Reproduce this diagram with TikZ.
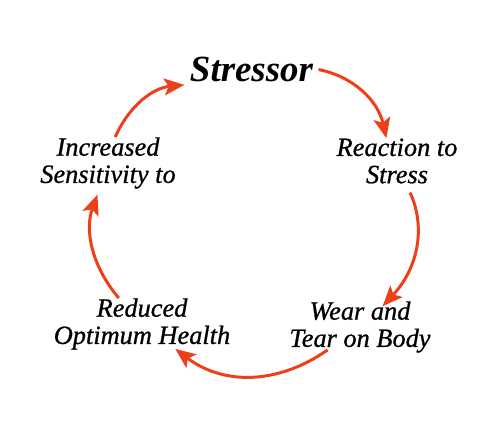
\documentclass[tikz,border=0pt]{standalone}
\usepackage{fontspec}
\setmainfont{Liberation Serif}
\newfontfamily\stagefont{Liberation Serif}[ItalicFeatures={FakeBold=0.8}]
\usepackage{tikz}
\usetikzlibrary{arrows.meta}
\usepackage{xcolor}
\definecolor{r1}{HTML}{EE3F1B}
\tikzset{>={Stealth[length=11.5pt,width=9.5pt,inset=2.5pt]}}
\tikzstyle{stage}=[align=center,inner sep=0pt,font=\stagefont\itshape\fontsize{15}{15.5}\selectfont]
\tikzstyle{cycle arrow}=[->,color=r1,line width=1.7pt]

\begin{document}
\begin{tikzpicture}[x=0.02cm,y=0.02cm]
  \useasboundingbox (0,0) rectangle (500,438);
  \node[font=\bfseries\itshape\fontsize{21}{24}\selectfont,inner sep=1pt,anchor=base] (stressor) at (251.5,356) {Stressor};
  \node[stage] (reaction) at (397,277) {Reaction to\\Stress};
  \node[stage] (wear) at (360,111) {Wear and\\Tear on Body};
  \node[stage] (health) at (142,114) {Reduced\\Optimum Health};
  \node[stage] (sens) at (108,275) {Increased\\Sensitivity to};
  \draw[cycle arrow,shorten <=2pt] (stressor) to[bend left=33] (reaction);
  \draw[cycle arrow,shorten <=5.5pt,shorten >=-4pt] (reaction) to[bend left=34] (wear);
  \draw[cycle arrow,shorten <=-3pt,shorten >=-1pt] (wear) to[bend left=36] (health);
  \draw[cycle arrow,shorten >=3.4pt] (health) to[bend left=30] (sens);
  \draw[cycle arrow,shorten >=2pt] (sens) to[bend left=30] (stressor.south west);
\end{tikzpicture}
\end{document}
